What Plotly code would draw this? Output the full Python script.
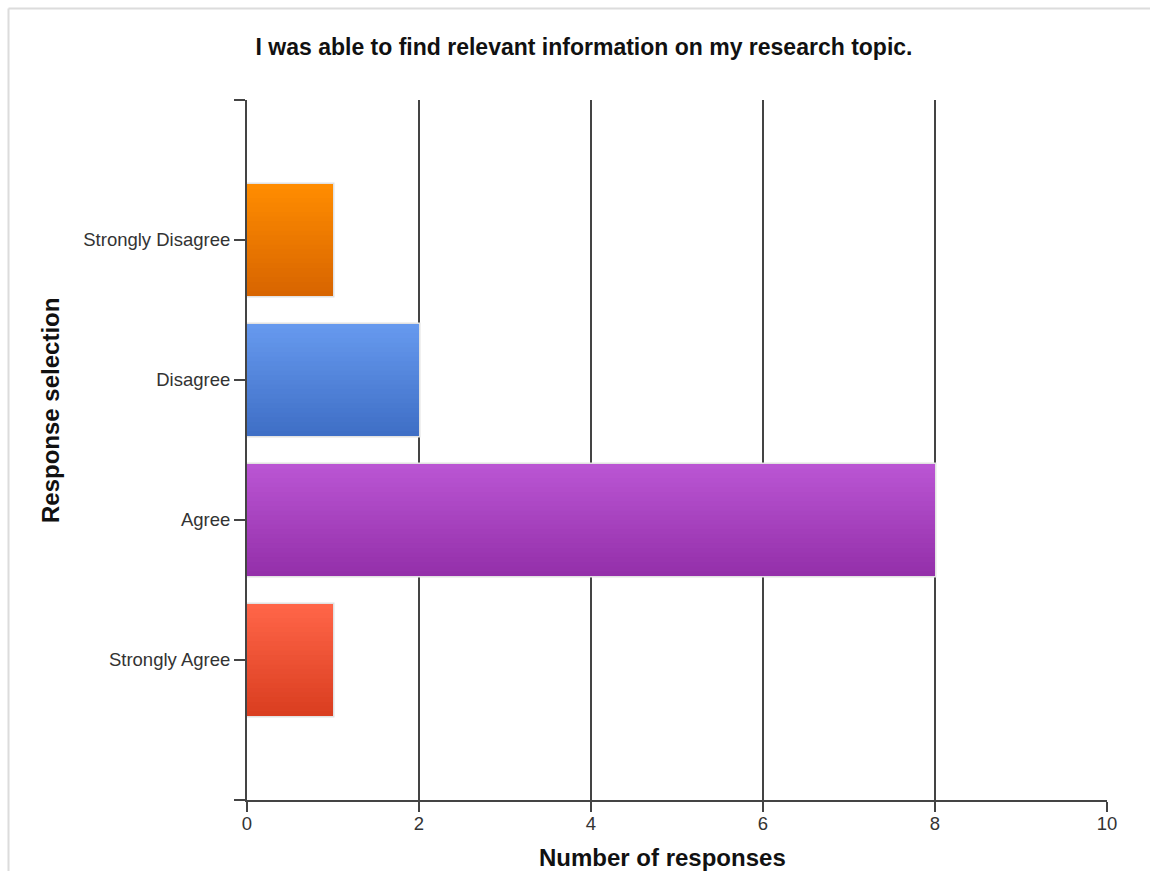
import plotly.graph_objects as go

# Survey responses, listed bottom to top on the chart
categories = ["Strongly Agree", "Agree", "Disagree", "Strongly Disagree"]
responses = [1, 8, 2, 1]

# Gradient end colours per bar (top, bottom)
top_colors = ["#FF6548", "#BA55D3", "#6699EE", "#FF8C00"]
bottom_colors = ["#DA3E20", "#9430AA", "#3F6FC6", "#D86500"]

title_text = "I was able to find relevant information on my research topic."
x_title = "Number of responses"
y_title = "Response selection"
x_ticks = [0, 2, 4, 6, 8, 10]


def hex_to_rgb(h):
    h = h.lstrip("#")
    return tuple(int(h[i:i + 2], 16) for i in (0, 2, 4))


def mix(c1, c2, t):
    a, b = hex_to_rgb(c1), hex_to_rgb(c2)
    return "rgb({},{},{})".format(*[round(a[i] + (b[i] - a[i]) * t) for i in range(3)])


W, H = 1150, 871
L, R, T, B = 247, 43, 100, 71
pw, ph = W - L - R, H - T - B
bar_w = 0.8
steps = 24
ypos = list(range(len(categories)))

fig = go.Figure()

# halo / outline around each bar
fig.add_trace(go.Bar(
    x=responses, y=ypos, orientation="h", width=bar_w,
    marker=dict(color="rgba(0,0,0,0)", line=dict(color="#e2e2e2", width=3)),
    hoverinfo="skip", showlegend=False,
))

# vertical gradient: each band runs from the bar bottom up to its own top edge
for k in range(steps):
    t = k / (steps - 1)
    h = bar_w * (steps - k) / steps
    fig.add_trace(go.Bar(
        x=responses, y=ypos, orientation="h",
        width=h, offset=-bar_w / 2,
        marker=dict(color=[mix(tc, bc, t) for tc, bc in zip(top_colors, bottom_colors)],
                    line=dict(width=0)),
        hoverinfo="skip" if k else "x+y", showlegend=False,
    ))

axis_col = "#444444"
font_family = "Liberation Sans, Arial, sans-serif"
fig.update_layout(
    width=W, height=H,
    margin=dict(l=L, r=R, t=T, b=B, autoexpand=False),
    paper_bgcolor="white", plot_bgcolor="white",
    barmode="overlay",
    showlegend=False,
    font=dict(family=font_family, color="#333333"),
    title=dict(text=title_text, x=584 / W, xanchor="center",
               y=1 - 47 / H, yanchor="middle",
               font=dict(size=23, color="#111111", family=font_family, weight="bold")),
    xaxis=dict(
        range=[0, 10], tickvals=x_ticks, ticks="outside", ticklen=10, tickwidth=2,
        tickcolor=axis_col, showline=True, linecolor=axis_col, linewidth=2,
        showgrid=True, gridcolor=axis_col, gridwidth=2, zeroline=False,
        tickfont=dict(size=18.5, color="#333333"), automargin=False,
        ticklabelstandoff=-4,
    ),
    yaxis=dict(
        range=[-1, 4], tickvals=[-1] + ypos + [4], ticktext=[""] + categories + [""],
        ticks="outside", ticklen=11, tickwidth=2, tickcolor=axis_col,
        showline=True, linecolor=axis_col, linewidth=2,
        showgrid=False, zeroline=False, automargin=False,
        tickfont=dict(size=18.5, color="#333333"),
    ),
)

# axis titles
fig.add_annotation(text=x_title, xref="paper", yref="paper",
                   x=(662 - L) / pw, y=-(857 - (H - B)) / ph,
                   xanchor="center", yanchor="middle", showarrow=False,
                   font=dict(size=24, color="#111111", family=font_family, weight="bold"))
fig.add_annotation(text=y_title, xref="paper", yref="paper",
                   x=(50 - L) / pw, y=1 - (411 - T) / ph, textangle=-90,
                   xanchor="center", yanchor="middle", showarrow=False,
                   font=dict(size=24, color="#111111", family=font_family, weight="bold"))

# thin frame along the top and left edges of the figure
fx = (8.5 - L) / pw
fy = 1 + (T - 8.5) / ph
fig.add_shape(type="line", xref="paper", yref="paper", x0=fx, x1=(W - L) / pw, y0=fy, y1=fy,
              line=dict(color="#dcdcdc", width=2), layer="below")
fig.add_shape(type="line", xref="paper", yref="paper", x0=fx, x1=fx, y0=fy, y1=-(B + 5) / ph,
              line=dict(color="#dcdcdc", width=2), layer="below")

fig.write_html("out.html", config={"displayModeBar": False})
